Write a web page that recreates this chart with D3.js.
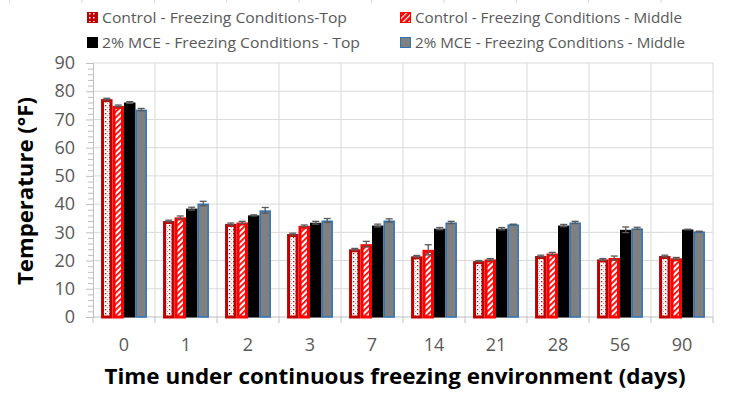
<!DOCTYPE html>
<html>
<head>
<meta charset="utf-8">
<script src="https://cdn.jsdelivr.net/npm/d3@7"></script>
<style>
  body { margin: 0; background: #fff; }
  text { font-family: "Open Sans", "Noto Sans", sans-serif; }
</style>
</head>
<body>
<div id="chart"></div>
<script>
// Chart data
const days = ["0", "1", "2", "3", "7", "14", "21", "28", "56", "90"];
const seriesNames = [
    "Control - Freezing Conditions-Top",
    "Control - Freezing Conditions - Middle",
    "2% MCE - Freezing Conditions - Top",
    "2% MCE - Freezing Conditions - Middle"
];
const controlTop = [77.2, 34.0, 33.0, 29.4, 24.0, 21.5, 19.8, 21.6, 20.4, 21.6];
const controlMiddle = [74.8, 35.3, 33.5, 32.3, 25.8, 23.8, 20.4, 22.5, 20.9, 20.8];
const mceTop = [76.0, 38.4, 36.0, 33.4, 32.4, 31.3, 31.3, 32.4, 30.9, 31.0];
const mceMiddle = [73.5, 40.2, 37.8, 34.2, 34.2, 33.5, 32.8, 33.5, 31.4, 30.3];
const controlTopErr = [0.3, 0.3, 0.3, 0.3, 0.3, 0.3, 0.2, 0.3, 0.3, 0.3];
const controlMiddleErr = [0.3, 0.5, 0.4, 0.3, 1.0, 1.8, 0.3, 0.4, 0.7, 0.3];
const mceTopErr = [0.3, 0.5, 0.2, 0.5, 0.5, 0.4, 0.4, 0.4, 1.0, 0.1];
const mceMiddleErr = [0.4, 0.8, 1.0, 0.7, 0.6, 0.4, 0.1, 0.4, 0.4, 0.1];
const yTicks = [0, 10, 20, 30, 40, 50, 60, 70, 80, 90];

const allValues = [controlTop, controlMiddle, mceTop, mceMiddle];
const allErrors = [controlTopErr, controlMiddleErr, mceTopErr, mceMiddleErr];

// SVG area
const svgWidth = 730;
const svgHeight = 397;
const plot = { left: 93, right: 713, top: 63, bottom: 317 };

const svg = d3.select("#chart")
    .append("svg")
    .attr("width", svgWidth)
    .attr("height", svgHeight);

// patterns for the control bars
const defs = svg.append("defs");
const dots = defs.append("pattern")
    .attr("id", "dots")
    .attr("patternUnits", "userSpaceOnUse")
    .attr("width", 4).attr("height", 4);
dots.append("rect").attr("width", 4).attr("height", 4).attr("fill", "#fff");
dots.append("rect").attr("x", 1).attr("y", 1).attr("width", 1.3).attr("height", 1.3).attr("fill", "#d00000");
dots.append("rect").attr("x", 3).attr("y", 3).attr("width", 1).attr("height", 1).attr("fill", "#f08080");

const hatch = defs.append("pattern")
    .attr("id", "hatch")
    .attr("patternUnits", "userSpaceOnUse")
    .attr("width", 4).attr("height", 4)
    .attr("patternTransform", "rotate(45)");
hatch.append("rect").attr("width", 4).attr("height", 4).attr("fill", "#fff");
hatch.append("rect").attr("width", 1.8).attr("height", 4).attr("fill", "#ff0000");

const legendDots = defs.append("pattern")
    .attr("id", "legendDots")
    .attr("patternUnits", "userSpaceOnUse")
    .attr("width", 4).attr("height", 4);
legendDots.append("rect").attr("width", 4).attr("height", 4).attr("fill", "#c00000");
legendDots.append("rect").attr("x", 1).attr("y", 1).attr("width", 1.5).attr("height", 1.5).attr("fill", "#fff");

const legendHatch = defs.append("pattern")
    .attr("id", "legendHatch")
    .attr("patternUnits", "userSpaceOnUse")
    .attr("width", 4).attr("height", 4)
    .attr("patternTransform", "rotate(45)");
legendHatch.append("rect").attr("width", 4).attr("height", 4).attr("fill", "#ff0000");
legendHatch.append("rect").attr("width", 1.2).attr("height", 4).attr("fill", "#fff");

const fills = ["url(#dots)", "url(#hatch)", "#000000", "#808080"];
const strokes = ["#c00000", "#ff0000", "#000000", "#2e75b6"];
const strokeWidths = [3, 3, 1, 1.5];
const legendFills = ["url(#legendDots)", "url(#legendHatch)", "#000000", "#808080"];

// faint marks along the top edge of the picture
svg.append("g").selectAll("line")
    .data(d3.range(10))
    .enter()
    .append("line")
    .attr("x1", i => 9.5 + i * 72.4)
    .attr("x2", i => 9.5 + i * 72.4)
    .attr("y1", 0).attr("y2", 3)
    .attr("stroke", "#d9d9d9");

// scales
const xScale = d3.scaleBand()
    .domain(days)
    .range([plot.left, plot.right])
    .paddingInner(0.26)
    .paddingOuter(0.13);

const xInner = d3.scaleBand()
    .domain(d3.range(4))
    .range([0, xScale.bandwidth()]);

const yScale = d3.scaleLinear()
    .domain([0, 90])
    .range([plot.bottom, plot.top]);

const step = xScale.step();

// gridlines
svg.append("g")
    .selectAll("line")
    .data(yTicks.filter(d => d > 0))
    .enter()
    .append("line")
    .attr("x1", plot.left).attr("x2", plot.right)
    .attr("y1", d => yScale(d)).attr("y2", d => yScale(d))
    .attr("stroke", "#d9d9d9");

const boundaries = days.map((d, i) => plot.left + (i + 1) * step);
svg.append("g")
    .selectAll("line")
    .data(boundaries)
    .enter()
    .append("line")
    .attr("x1", d => d).attr("x2", d => d)
    .attr("y1", plot.top).attr("y2", plot.bottom)
    .attr("stroke", "#d9d9d9");

// y axis with minor ticks
const yAxis = d3.axisLeft(yScale).tickValues(yTicks).tickSize(7).tickPadding(5);
const yAxisG = svg.append("g")
    .attr("transform", `translate(${plot.left},0)`)
    .call(yAxis);
yAxisG.select(".domain").attr("stroke", "#bfbfbf");
yAxisG.selectAll(".tick line").attr("stroke", "#bfbfbf");
yAxisG.selectAll(".tick text")
    .attr("fill", "#595959")
    .style("font-size", "18px")
    .attr("x", -18);

const minorAxis = d3.axisLeft(yScale)
    .tickValues(d3.range(0, 91, 2).filter(v => v % 10 !== 0))
    .tickSize(5)
    .tickFormat("");
const minorG = svg.append("g")
    .attr("transform", `translate(${plot.left},0)`)
    .call(minorAxis);
minorG.select(".domain").remove();
minorG.selectAll(".tick line").attr("stroke", "#bfbfbf");

// x axis
svg.append("line")
    .attr("x1", plot.left).attr("x2", plot.right)
    .attr("y1", plot.bottom).attr("y2", plot.bottom)
    .attr("stroke", "#bfbfbf");
svg.append("g")
    .selectAll("line")
    .data([plot.left].concat(boundaries))
    .enter()
    .append("line")
    .attr("x1", d => d).attr("x2", d => d)
    .attr("y1", plot.bottom).attr("y2", plot.bottom + 6)
    .attr("stroke", "#bfbfbf");

svg.append("g")
    .selectAll("text")
    .data(days)
    .enter()
    .append("text")
    .text(d => d)
    .attr("x", d => xScale(d) + xScale.bandwidth() / 2)
    .attr("y", 351)
    .attr("text-anchor", "middle")
    .attr("fill", "#595959")
    .style("font-size", "18px");

// bars
allValues.forEach((values, s) => {
    const sw = strokeWidths[s];
    const g = svg.append("g");
    g.selectAll("rect")
        .data(values)
        .enter()
        .append("rect")
        .attr("x", (d, i) => xScale(days[i]) + xInner(s) + sw / 2)
        .attr("width", xInner.bandwidth() - sw)
        .attr("y", d => yScale(d) + sw / 2)
        .attr("height", d => yScale(0) - yScale(d) - sw / 2)
        .attr("fill", fills[s])
        .attr("stroke", strokes[s])
        .attr("stroke-width", sw);
});

// error bars
allValues.forEach((values, s) => {
    const errs = allErrors[s];
    const g = svg.append("g").attr("stroke", "#595959").attr("stroke-width", 1.3);
    values.forEach((v, i) => {
        const cx = xScale(days[i]) + xInner(s) + xInner.bandwidth() / 2;
        const top = yScale(v + errs[i]);
        const bot = yScale(v - errs[i]);
        g.append("line").attr("x1", cx).attr("x2", cx).attr("y1", top).attr("y2", bot);
        g.append("line").attr("x1", cx - 3.5).attr("x2", cx + 3.5).attr("y1", top).attr("y2", top);
        g.append("line").attr("x1", cx - 3.5).attr("x2", cx + 3.5).attr("y1", bot).attr("y2", bot);
    });
});

// legend
const legendPos = [[87, 12], [400, 12], [87, 37], [400, 37]];
const legendWidths = [245, 267, 258, 270];
seriesNames.forEach((name, s) => {
    const [lx, ly] = legendPos[s];
    svg.append("rect")
        .attr("x", lx + 0.5).attr("y", ly + 0.5)
        .attr("width", 10).attr("height", 10)
        .attr("fill", legendFills[s])
        .attr("stroke", s === 3 ? "#2e75b6" : strokes[s])
        .attr("stroke-width", 1);
    svg.append("text")
        .text(name)
        .attr("x", lx + 15)
        .attr("y", ly + 11)
        .attr("fill", "#595959")
        .attr("textLength", legendWidths[s])
        .attr("lengthAdjust", "spacingAndGlyphs")
        .style("font-size", "15px");
});

// axis titles
svg.append("text")
    .text("Time under continuous freezing environment (days)")
    .attr("x", 395)
    .attr("y", 384)
    .attr("text-anchor", "middle")
    .attr("textLength", 581)
    .attr("lengthAdjust", "spacingAndGlyphs")
    .style("font-size", "22px")
    .style("font-weight", "bold")
    .attr("fill", "#000");

svg.append("text")
    .text("Temperature (°F)")
    .attr("transform", "translate(33,191) rotate(-90)")
    .attr("text-anchor", "middle")
    .attr("textLength", 188)
    .attr("lengthAdjust", "spacingAndGlyphs")
    .style("font-size", "22px")
    .style("font-weight", "bold")
    .attr("fill", "#000");
</script>
</body>
</html>
